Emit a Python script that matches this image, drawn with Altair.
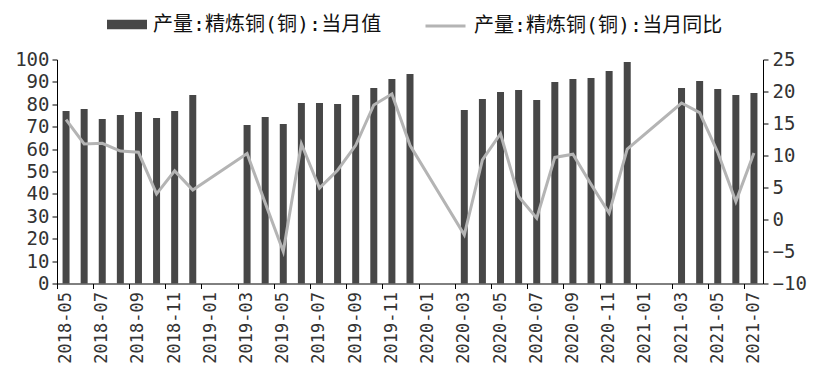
import altair as alt
import pandas as pd

months = [
    "2018-05", "2018-06", "2018-07", "2018-08", "2018-09", "2018-10", "2018-11", "2018-12",
    "2019-01", "2019-02", "2019-03", "2019-04", "2019-05", "2019-06", "2019-07", "2019-08",
    "2019-09", "2019-10", "2019-11", "2019-12",
    "2020-01", "2020-02", "2020-03", "2020-04", "2020-05", "2020-06", "2020-07", "2020-08",
    "2020-09", "2020-10", "2020-11", "2020-12",
    "2021-01", "2021-02", "2021-03", "2021-04", "2021-05", "2021-06", "2021-07",
]
tick_months = months[::2]

production = [
    77.0, 77.9, 73.4, 75.2, 76.6, 73.9, 77.0, 84.2,
    None, None, 70.8, 74.3, 71.2, 80.6, 80.6, 80.1, 84.2, 87.3, 91.3, 93.5,
    None, None, 77.5, 82.4, 85.5, 86.4, 81.9, 90.0, 91.3, 91.7, 94.9, 98.9,
    None, None, 87.3, 90.4, 86.8, 84.2, 85.0,
]
yoy = [
    15.6, 11.8, 11.9, 10.7, 10.5, 4.0, 7.6, 4.6,
    None, None, 10.3, 2.6, -5.0, 11.8, 4.9, 7.7, 11.6, 17.9, 19.6, 11.6,
    None, None, -2.4, 9.3, 13.4, 3.6, 0.2, 9.7, 10.2, 5.5, 1.0, 11.0,
    None, None, 18.2, 16.7, 10.5, 2.8, 10.4,
]

name_bar = "产量:精炼铜(铜):当月值"
name_line = "产量:精炼铜(铜):当月同比"

df = pd.DataFrame({"month": months, "prod": production, "yoy": yoy})
df_bar = df.dropna(subset=["prod"]).assign(s1=name_bar)
df_line = df.dropna(subset=["yoy"]).assign(s2=name_line)

NUMFONT = "DejaVu Sans Mono"
LEGFONT = "DejaVu Sans Mono, Noto Sans CJK SC"

xscale = alt.Scale(domain=months, paddingInner=0, paddingOuter=0)

bars = alt.Chart(df_bar).mark_bar(size=7).encode(
    x=alt.X("month:O", scale=xscale, title=None,
            axis=alt.Axis(values=tick_months, labelAngle=270, ticks=False,
                          labelFont=NUMFONT, labelFontSize=17, labelColor="#333",
                          labelPadding=8, domainColor="#000", orient="bottom")),
    y=alt.Y("prod:Q", scale=alt.Scale(domain=[0, 100], nice=False), title=None,
            axis=alt.Axis(values=list(range(0, 101, 10)), grid=False, orient="left",
                          labelFont=NUMFONT, labelFontSize=19, labelColor="#333",
                          labelPadding=3,
                          domainColor="#000", tickColor="#000", tickSize=5)),
    color=alt.Color("s1:N", scale=alt.Scale(range=["#474747"]),
                    legend=alt.Legend(title=None, orient="none", legendX=50, legendY=-55,
                                      symbolType="M-1,-0.24H1V0.24H-1Z", symbolSize=1600,
                                      symbolStrokeWidth=0, labelFont=LEGFONT, labelFontSize=20,
                                      labelLimit=0, labelOffset=6,
                                      labelColor="#111", padding=0)),
)

line = alt.Chart(df_line).mark_line(strokeWidth=3).encode(
    x=alt.X("month:O", scale=xscale, title=None,
            axis=alt.Axis(values=tick_months, bandPosition=0, labels=False, domain=False,
                          tickColor="#000", tickSize=5, orient="bottom")),
    y=alt.Y("yoy:Q", scale=alt.Scale(domain=[-10, 25], nice=False), title=None,
            axis=alt.Axis(values=list(range(-10, 26, 5)), grid=False, orient="right",
                          labelFont=NUMFONT, labelFontSize=19, labelColor="#333",
                          labelPadding=4,
                          domainColor="#000", tickColor="#000", tickSize=5)),
    stroke=alt.Stroke("s2:N", scale=alt.Scale(range=["#b4b4b4"]),
                      legend=alt.Legend(title=None, orient="none", legendX=367, legendY=-55,
                                        symbolType="stroke", symbolSize=1600,
                                        symbolStrokeWidth=3, labelFont=LEGFONT, labelFontSize=20,
                                        labelLimit=0, labelOffset=7,
                                        labelColor="#111", padding=0)),
)

chart = alt.layer(bars, line).resolve_scale(
    y="independent", color="independent", stroke="independent"
).resolve_axis(x="independent").properties(
    width=706, height=224,
    padding={"left": 49, "top": 51.5, "right": 48, "bottom": 90},
    autosize="none",
).configure_view(stroke=None)

chart.save("out.html", embed_options={"renderer": "svg", "actions": False})
